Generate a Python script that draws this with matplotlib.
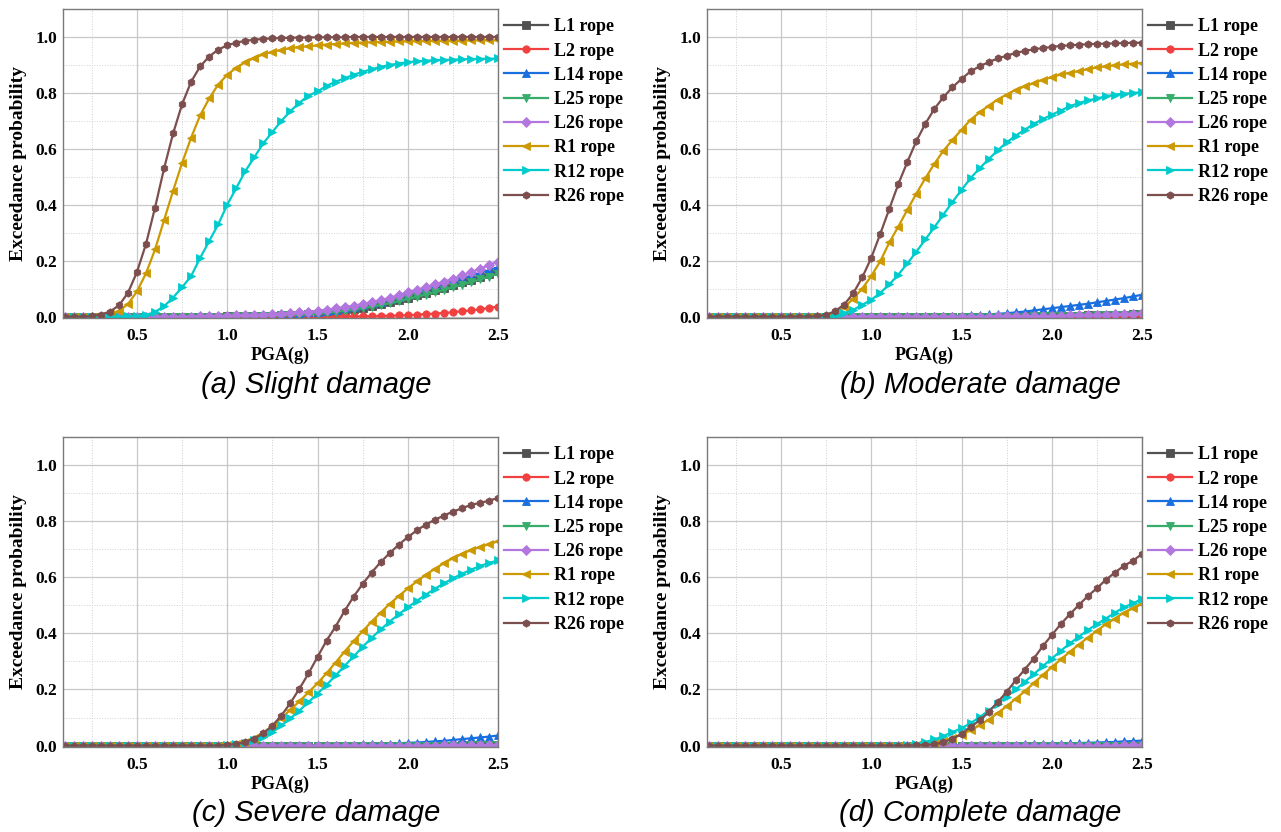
import matplotlib
matplotlib.use("Agg")
import matplotlib.pyplot as plt
from matplotlib.ticker import MultipleLocator

# PGA grid (g)
pga = [0.10, 0.15, 0.20, 0.25, 0.30, 0.35, 0.40, 0.45, 0.50, 0.55,
       0.60, 0.65, 0.70, 0.75, 0.80, 0.85, 0.90, 0.95, 1.00, 1.05,
       1.10, 1.15, 1.20, 1.25, 1.30, 1.35, 1.40, 1.45, 1.50, 1.55,
       1.60, 1.65, 1.70, 1.75, 1.80, 1.85, 1.90, 1.95, 2.00, 2.05,
       2.10, 2.15, 2.20, 2.25, 2.30, 2.35, 2.40, 2.45, 2.50]

ropes = ["L1 rope", "L2 rope", "L14 rope", "L25 rope", "L26 rope", "R1 rope", "R12 rope", "R26 rope"]
colors = ["#515151", "#F14040", "#1A6FDF", "#37AD6B", "#B177DE", "#CC9900", "#00CBCC", "#7D4E4E"]
markers = ["s", "o", "^", "v", "D", "<", ">", "h"]
captions = ["(a) Slight damage", "(b) Moderate damage", "(c) Severe damage", "(d) Complete damage"]

# ---- (a) slight damage ----
a_L1 = [0, 0, 0, 0, 0, 0, 0, 0, 0, 0,
        0, 0, 0, 0, 0, 0, 0, 0, 0.001, 0.001,
        0.001, 0.002, 0.002, 0.003, 0.004, 0.006, 0.007, 0.009, 0.011, 0.014,
        0.018, 0.022, 0.027, 0.032, 0.038, 0.045, 0.052, 0.060, 0.068, 0.076,
        0.085, 0.094, 0.103, 0.113, 0.122, 0.132, 0.142, 0.152, 0.163]
a_L2 = [0, 0, 0, 0, 0, 0, 0, 0, 0, 0,
        0, 0, 0, 0, 0, 0, 0, 0, 0, 0,
        0, 0, 0, 0, 0, 0, 0, 0, 0, 0,
        0, 0.001, 0.001, 0.001, 0.002, 0.003, 0.003, 0.004, 0.005, 0.007,
        0.009, 0.011, 0.013, 0.016, 0.019, 0.022, 0.026, 0.031, 0.036]
a_L14 = [0, 0, 0, 0, 0, 0, 0, 0, 0, 0,
         0, 0, 0, 0, 0, 0, 0.001, 0.001, 0.002, 0.003,
         0.004, 0.005, 0.006, 0.007, 0.009, 0.011, 0.013, 0.015, 0.018, 0.021,
         0.025, 0.030, 0.035, 0.040, 0.047, 0.054, 0.062, 0.071, 0.080, 0.089,
         0.098, 0.107, 0.116, 0.126, 0.136, 0.146, 0.156, 0.166, 0.177]
a_L25 = [0, 0, 0, 0, 0, 0, 0, 0, 0, 0,
         0, 0, 0, 0, 0, 0, 0, 0, 0, 0.001,
         0.001, 0.001, 0.002, 0.003, 0.004, 0.005, 0.006, 0.008, 0.010, 0.013,
         0.017, 0.021, 0.025, 0.030, 0.036, 0.042, 0.048, 0.055, 0.063, 0.071,
         0.079, 0.087, 0.096, 0.105, 0.114, 0.124, 0.133, 0.143, 0.153]
a_L26 = [0, 0, 0, 0, 0, 0, 0, 0, 0, 0,
         0, 0, 0, 0, 0, 0.001, 0.001, 0.002, 0.003, 0.004,
         0.005, 0.006, 0.007, 0.009, 0.011, 0.013, 0.015, 0.018, 0.021, 0.025,
         0.029, 0.034, 0.039, 0.045, 0.052, 0.059, 0.067, 0.077, 0.087, 0.096,
         0.105, 0.115, 0.125, 0.135, 0.147, 0.159, 0.171, 0.184, 0.197]
a_R1 = [0, 0, 0, 0, 0.002, 0.008, 0.020, 0.045, 0.090, 0.155,
        0.240, 0.345, 0.450, 0.550, 0.640, 0.720, 0.780, 0.830, 0.865, 0.890,
        0.910, 0.925, 0.938, 0.947, 0.954, 0.960, 0.964, 0.967, 0.970, 0.973,
        0.975, 0.977, 0.979, 0.980, 0.981, 0.982, 0.983, 0.984, 0.985, 0.985,
        0.986, 0.986, 0.987, 0.987, 0.987, 0.988, 0.988, 0.988, 0.988]
a_R12 = [0, 0, 0, 0, 0, 0, 0, 0.001, 0.002, 0.006,
         0.017, 0.037, 0.068, 0.105, 0.145, 0.210, 0.270, 0.330, 0.400, 0.460,
         0.520, 0.570, 0.620, 0.660, 0.700, 0.735, 0.765, 0.790, 0.805, 0.825,
         0.840, 0.852, 0.865, 0.875, 0.885, 0.893, 0.900, 0.905, 0.910, 0.913,
         0.915, 0.917, 0.918, 0.919, 0.920, 0.921, 0.922, 0.922, 0.923]
a_R26 = [0, 0, 0, 0.002, 0.007, 0.018, 0.040, 0.085, 0.160, 0.260,
         0.390, 0.530, 0.655, 0.760, 0.840, 0.895, 0.930, 0.955, 0.970, 0.980,
         0.986, 0.990, 0.993, 0.995, 0.996, 0.997, 0.998, 0.998, 0.999, 0.999,
         0.999, 0.999, 1, 1, 1, 1, 1, 1, 1, 1,
         1, 1, 1, 1, 1, 1, 1, 1, 1]

# ---- (b) moderate damage ----
b_L1 = [0, 0, 0, 0, 0, 0, 0, 0, 0, 0,
        0, 0, 0, 0, 0, 0, 0, 0, 0, 0,
        0, 0, 0, 0, 0, 0, 0, 0, 0, 0,
        0, 0, 0, 0, 0, 0.001, 0.001, 0.001, 0.002, 0.002,
        0.003, 0.003, 0.004, 0.005, 0.005, 0.006, 0.007, 0.008, 0.009]
b_L2 = [0, 0, 0, 0, 0, 0, 0, 0, 0, 0,
        0, 0, 0, 0, 0, 0, 0, 0, 0, 0,
        0, 0, 0, 0, 0, 0, 0, 0, 0, 0,
        0, 0, 0, 0, 0, 0, 0, 0, 0, 0,
        0, 0, 0, 0.001, 0.001, 0.001, 0.001, 0.002, 0.002]
b_L14 = [0, 0, 0, 0, 0, 0, 0, 0, 0, 0,
         0, 0, 0, 0, 0, 0, 0, 0, 0, 0,
         0, 0, 0, 0, 0.001, 0.001, 0.002, 0.002, 0.003, 0.005,
         0.006, 0.008, 0.010, 0.012, 0.015, 0.018, 0.022, 0.026, 0.030, 0.034,
         0.038, 0.042, 0.046, 0.051, 0.056, 0.061, 0.066, 0.072, 0.078]
b_L25 = [0, 0, 0, 0, 0, 0, 0, 0, 0, 0,
         0, 0, 0, 0, 0, 0, 0, 0, 0, 0,
         0, 0, 0, 0, 0, 0, 0, 0, 0, 0,
         0, 0, 0, 0, 0, 0, 0.001, 0.001, 0.001, 0.002,
         0.002, 0.003, 0.003, 0.004, 0.005, 0.005, 0.006, 0.007, 0.008]
b_L26 = [0, 0, 0, 0, 0, 0, 0, 0, 0, 0,
         0, 0, 0, 0, 0, 0, 0, 0, 0, 0,
         0, 0, 0, 0, 0, 0, 0, 0, 0, 0,
         0, 0, 0.001, 0.001, 0.001, 0.001, 0.002, 0.002, 0.003, 0.003,
         0.004, 0.005, 0.006, 0.006, 0.007, 0.008, 0.009, 0.011, 0.012]
b_R1 = [0, 0, 0, 0, 0, 0, 0, 0, 0, 0,
        0, 0, 0, 0.002, 0.014, 0.033, 0.064, 0.100, 0.145, 0.198,
        0.265, 0.322, 0.382, 0.440, 0.495, 0.547, 0.593, 0.632, 0.668, 0.704,
        0.730, 0.754, 0.776, 0.794, 0.811, 0.823, 0.835, 0.847, 0.856, 0.866,
        0.872, 0.878, 0.885, 0.891, 0.895, 0.899, 0.902, 0.905, 0.907]
b_R12 = [0, 0, 0, 0, 0, 0, 0, 0, 0, 0,
         0, 0, 0, 0, 0.002, 0.012, 0.024, 0.042, 0.060, 0.085,
         0.115, 0.150, 0.190, 0.232, 0.276, 0.320, 0.365, 0.410, 0.453, 0.495,
         0.530, 0.563, 0.594, 0.623, 0.647, 0.668, 0.689, 0.706, 0.722, 0.737,
         0.752, 0.764, 0.773, 0.780, 0.788, 0.794, 0.797, 0.800, 0.802]
b_R26 = [0, 0, 0, 0, 0, 0, 0, 0, 0, 0,
         0, 0, 0.001, 0.006, 0.020, 0.043, 0.083, 0.140, 0.210, 0.296,
         0.385, 0.474, 0.553, 0.628, 0.690, 0.743, 0.785, 0.820, 0.850, 0.877,
         0.895, 0.910, 0.923, 0.933, 0.943, 0.950, 0.956, 0.960, 0.964, 0.968,
         0.970, 0.972, 0.974, 0.975, 0.976, 0.977, 0.978, 0.979, 0.979]

# ---- (c) severe damage ----
c_L1 = [0, 0, 0, 0, 0, 0, 0, 0, 0, 0,
        0, 0, 0, 0, 0, 0, 0, 0, 0, 0,
        0, 0, 0, 0, 0, 0, 0, 0, 0, 0,
        0, 0, 0, 0, 0, 0, 0, 0, 0, 0,
        0, 0, 0, 0, 0.001, 0.001, 0.001, 0.001, 0.001]
c_L2 = [0, 0, 0, 0, 0, 0, 0, 0, 0, 0,
        0, 0, 0, 0, 0, 0, 0, 0, 0, 0,
        0, 0, 0, 0, 0, 0, 0, 0, 0, 0,
        0, 0, 0, 0, 0, 0, 0, 0, 0, 0,
        0, 0, 0, 0, 0, 0, 0, 0, 0]
c_L14 = [0, 0, 0, 0, 0, 0, 0, 0, 0, 0,
         0, 0, 0, 0, 0, 0, 0, 0, 0, 0,
         0, 0, 0, 0, 0, 0, 0, 0.001, 0.001, 0.001,
         0.001, 0.002, 0.003, 0.004, 0.005, 0.006, 0.007, 0.008, 0.010, 0.011,
         0.013, 0.015, 0.017, 0.020, 0.023, 0.026, 0.029, 0.032, 0.036]
c_L25 = [0, 0, 0, 0, 0, 0, 0, 0, 0, 0,
         0, 0, 0, 0, 0, 0, 0, 0, 0, 0,
         0, 0, 0, 0, 0, 0, 0, 0, 0, 0,
         0, 0, 0, 0, 0, 0, 0, 0, 0, 0,
         0, 0, 0, 0, 0, 0.001, 0.001, 0.001, 0.001]
c_L26 = [0, 0, 0, 0, 0, 0, 0, 0, 0, 0,
         0, 0, 0, 0, 0, 0, 0, 0, 0, 0,
         0, 0, 0, 0, 0, 0, 0, 0, 0, 0,
         0, 0, 0, 0, 0, 0, 0, 0, 0, 0,
         0, 0, 0.001, 0.001, 0.001, 0.001, 0.001, 0.002, 0.002]
c_R1 = [0, 0, 0, 0, 0, 0, 0, 0, 0, 0,
        0, 0, 0, 0, 0, 0, 0, 0, 0.002, 0.006,
        0.014, 0.027, 0.046, 0.070, 0.098, 0.128, 0.158, 0.190, 0.222, 0.258,
        0.296, 0.335, 0.372, 0.408, 0.442, 0.474, 0.505, 0.533, 0.560, 0.585,
        0.609, 0.630, 0.650, 0.668, 0.683, 0.697, 0.708, 0.718, 0.728]
c_R12 = [0, 0, 0, 0, 0, 0, 0, 0, 0, 0,
         0, 0, 0, 0, 0, 0, 0, 0, 0.001, 0.004,
         0.009, 0.019, 0.032, 0.050, 0.072, 0.097, 0.125, 0.155, 0.185, 0.216,
         0.250, 0.284, 0.318, 0.352, 0.384, 0.414, 0.442, 0.468, 0.493, 0.516,
         0.538, 0.559, 0.578, 0.596, 0.612, 0.627, 0.640, 0.651, 0.660]
c_R26 = [0, 0, 0, 0, 0, 0, 0, 0, 0, 0,
         0, 0, 0, 0, 0, 0, 0, 0, 0.002, 0.006,
         0.013, 0.025, 0.044, 0.071, 0.107, 0.152, 0.203, 0.257, 0.316, 0.374,
         0.424, 0.480, 0.531, 0.576, 0.617, 0.654, 0.686, 0.716, 0.743, 0.767,
         0.788, 0.805, 0.820, 0.834, 0.846, 0.858, 0.865, 0.873, 0.883]

# ---- (d) complete damage ----
d_L1 = [0, 0, 0, 0, 0, 0, 0, 0, 0, 0,
        0, 0, 0, 0, 0, 0, 0, 0, 0, 0,
        0, 0, 0, 0, 0, 0, 0, 0, 0, 0,
        0, 0, 0, 0, 0, 0, 0, 0, 0, 0,
        0, 0, 0, 0, 0, 0, 0, 0, 0]
d_L2 = [0, 0, 0, 0, 0, 0, 0, 0, 0, 0,
        0, 0, 0, 0, 0, 0, 0, 0, 0, 0,
        0, 0, 0, 0, 0, 0, 0, 0, 0, 0,
        0, 0, 0, 0, 0, 0, 0, 0, 0, 0,
        0, 0, 0, 0, 0, 0, 0, 0, 0]
d_L14 = [0, 0, 0, 0, 0, 0, 0, 0, 0, 0,
         0, 0, 0, 0, 0, 0, 0, 0, 0, 0,
         0, 0, 0, 0, 0, 0, 0, 0, 0.001, 0.001,
         0.001, 0.002, 0.002, 0.003, 0.003, 0.004, 0.005, 0.005, 0.006, 0.007,
         0.008, 0.009, 0.010, 0.011, 0.012, 0.013, 0.015, 0.016, 0.018]
d_L25 = [0, 0, 0, 0, 0, 0, 0, 0, 0, 0,
         0, 0, 0, 0, 0, 0, 0, 0, 0, 0,
         0, 0, 0, 0, 0, 0, 0, 0, 0, 0,
         0, 0, 0, 0, 0, 0, 0, 0, 0, 0,
         0, 0, 0, 0, 0, 0, 0, 0, 0]
d_L26 = [0, 0, 0, 0, 0, 0, 0, 0, 0, 0,
         0, 0, 0, 0, 0, 0, 0, 0, 0, 0,
         0, 0, 0, 0, 0, 0, 0, 0, 0, 0,
         0, 0, 0, 0, 0, 0, 0, 0, 0, 0,
         0, 0, 0, 0, 0, 0, 0.001, 0.001, 0.001]
d_R1 = [0, 0, 0, 0, 0, 0, 0, 0, 0, 0,
        0, 0, 0, 0, 0, 0, 0, 0, 0, 0,
        0, 0, 0, 0.002, 0.005, 0.010, 0.017, 0.027, 0.039, 0.054,
        0.072, 0.092, 0.116, 0.140, 0.167, 0.193, 0.223, 0.251, 0.280, 0.307,
        0.334, 0.360, 0.385, 0.409, 0.433, 0.453, 0.474, 0.489, 0.505]
d_R12 = [0, 0, 0, 0, 0, 0, 0, 0, 0, 0,
         0, 0, 0, 0, 0, 0, 0, 0, 0, 0,
         0, 0, 0.002, 0.006, 0.013, 0.022, 0.034, 0.048, 0.062, 0.080,
         0.101, 0.125, 0.149, 0.175, 0.200, 0.227, 0.254, 0.283, 0.310, 0.338,
         0.364, 0.388, 0.412, 0.433, 0.453, 0.474, 0.493, 0.507, 0.523]
d_R26 = [0, 0, 0, 0, 0, 0, 0, 0, 0, 0,
         0, 0, 0, 0, 0, 0, 0, 0, 0, 0,
         0, 0, 0, 0.001, 0.002, 0.005, 0.012, 0.024, 0.042, 0.066,
         0.090, 0.119, 0.155, 0.191, 0.233, 0.271, 0.310, 0.354, 0.394, 0.433,
         0.468, 0.501, 0.533, 0.561, 0.591, 0.617, 0.641, 0.659, 0.683]

panels = [
    [a_L1, a_L2, a_L14, a_L25, a_L26, a_R1, a_R12, a_R26],
    [b_L1, b_L2, b_L14, b_L25, b_L26, b_R1, b_R12, b_R26],
    [c_L1, c_L2, c_L14, c_L25, c_L26, c_R1, c_R12, c_R26],
    [d_L1, d_L2, d_L14, d_L25, d_L26, d_R1, d_R12, d_R26],
]

W, H = 1281, 832
fig = plt.figure(figsize=(W / 100, H / 100), dpi=100)

serif = "Liberation Serif"
sans = "Liberation Sans"

# pixel boxes of the plot areas: left, top, right, bottom
boxes = [(63, 9, 498, 318), (707, 9, 1142, 318), (63, 437, 498, 747), (707, 437, 1142, 747)]
cap_pos = [(316, 385), (980, 385), (316, 813), (980, 813)]

for k, series in enumerate(panels):
    l, t, r, b = boxes[k]
    ax = fig.add_axes([l / W, 1 - b / H, (r - l) / W, (b - t) / H])

    # Draw each rope's fragility curve
    for name, vals, c, m in zip(ropes, series, colors, markers):
        ax.plot(pga, vals, color=c, marker=m, markersize=5.3, lw=1.6,
                markeredgewidth=0.6, label=name)

    ax.set_xlim(0.09, 2.5)
    ax.set_ylim(-0.005, 1.1)
    ax.xaxis.set_major_locator(MultipleLocator(0.5))
    ax.xaxis.set_minor_locator(MultipleLocator(0.25))
    ax.yaxis.set_major_locator(MultipleLocator(0.2))
    ax.yaxis.set_minor_locator(MultipleLocator(0.1))
    ax.grid(True, which="major", color="#c8c8c8", lw=0.9)
    ax.grid(True, which="minor", color="#d0d0d0", lw=0.7, ls=":")
    ax.set_axisbelow(True)
    ax.tick_params(which="both", length=0)
    ax.tick_params(axis="x", pad=7)
    ax.tick_params(axis="y", pad=4)
    for lab in ax.get_xticklabels() + ax.get_yticklabels():
        lab.set_fontfamily(serif)
        lab.set_fontweight("bold")
        lab.set_fontsize(12.5)
    for sp in ax.spines.values():
        sp.set_color("#7a7a7a")
        sp.set_linewidth(1.0)

    ax.set_xlabel("PGA(g)", fontfamily=serif, fontweight="bold", fontsize=13, labelpad=2)
    ax.set_ylabel("Exceedance probability", fontfamily=serif, fontweight="bold",
                  fontsize=14, labelpad=6)

    ax.legend(loc="upper left", bbox_to_anchor=(0.99, 1.005), frameon=False,
              prop={"family": serif, "weight": "bold", "size": 13},
              handlelength=2.4, handletextpad=0.35, labelspacing=0.4,
              borderaxespad=0.2)

    cx, cy = cap_pos[k]
    fig.text(cx / W, 1 - cy / H, captions[k], fontfamily=sans, style="italic",
             fontsize=21, ha="center", va="center")

fig.savefig("out.png", dpi=100)
